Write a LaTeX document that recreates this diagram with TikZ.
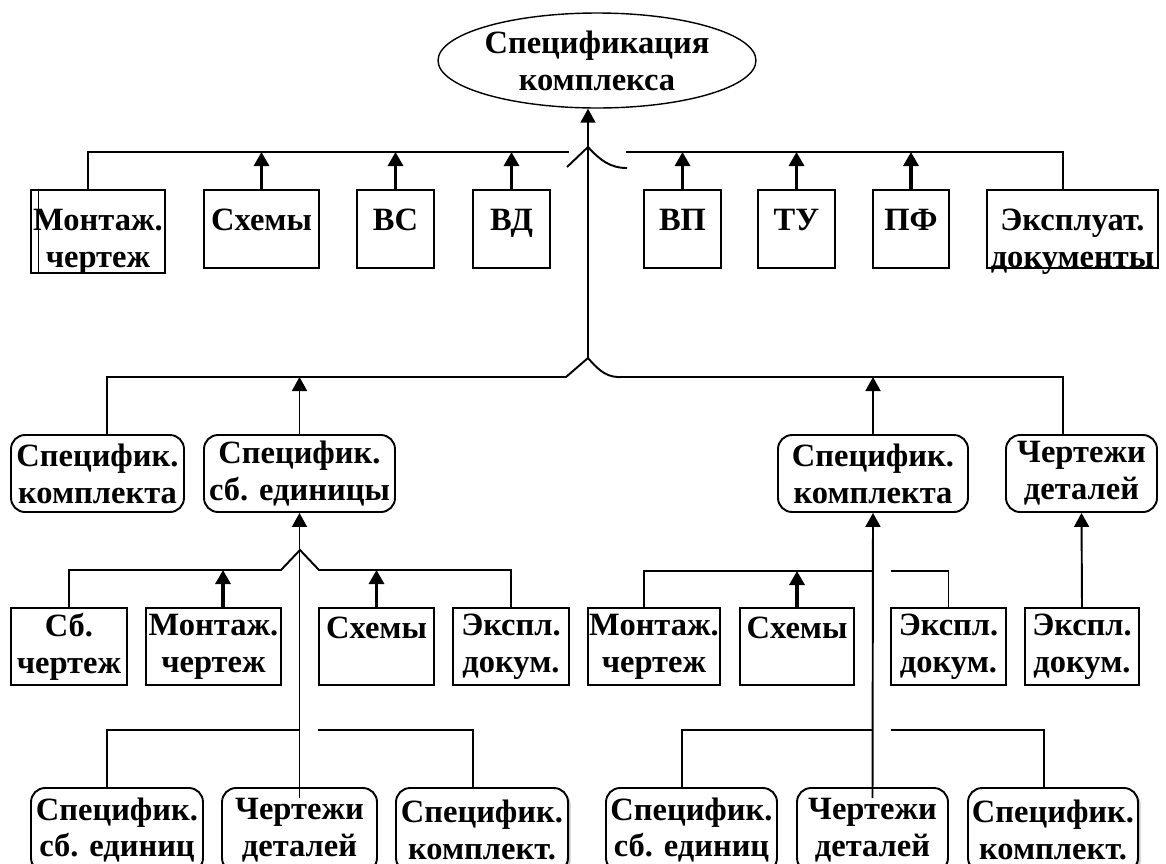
\documentclass[tikz,border=0pt]{standalone}
\usepackage{fontspec}
\setmainfont{Liberation Serif}
\usetikzlibrary{arrows.meta,calc,shapes.geometric,shadows}

\begin{document}
\begin{tikzpicture}[x=0.02cm,y=-0.02cm,
  every node/.style={font=\fontsize{18.5}{21}\selectfont\bfseries,align=center,inner sep=0pt},
  box/.style={draw,fill=white,line width=1.1pt,minimum height=1.54cm},
  lev1/.style={box,text height=1.54cm,text depth=0.02cm},
  rbox/.style={box,rounded corners=8pt},
  lowbox/.style={rbox,minimum height=1.68cm},
  shad/.style={drop shadow={shadow xshift=1.5pt,shadow yshift=-1.5pt,fill=black!45}},
  link/.style={line width=1.1pt},
  up/.style={link,-{Triangle[length=2.8mm,width=3mm]}},
  upt/.style={up,line width=1.8pt}]
\useasboundingbox (0,0) rectangle (1166,863);
\node[draw,ellipse,line width=0.8pt,minimum width=5.74cm,minimum height=1.9cm] (spec) at (597,60.5) {Спецификация\\комплекса};
% level 1
\node[lev1,line width=1.6pt,minimum width=2.68cm,text depth=0.12cm] (mont1) at (98,231.5) {Монтаж.\\чертеж};
\node[lev1,minimum width=2.3cm] (shem1) at (261.5,229) {Схемы\\~};
\node[lev1,minimum width=1.54cm] (vs) at (395.5,229) {ВС\\~};
\node[lev1,minimum width=1.54cm] (vd) at (511.5,229) {ВД\\~};
\node[lev1,minimum width=1.54cm] (vp) at (682.5,229) {ВП\\~};
\node[lev1,minimum width=1.54cm] (tu) at (796.5,229) {ТУ\\~};
\node[lev1,minimum width=1.52cm] (pf) at (911,229) {ПФ\\~};
\node[lev1,minimum width=3.42cm] (ekspl1) at (1072.5,229) {Эксплуат.\\документы};
% level 2
\node[rbox,minimum width=3.46cm] (speck1) at (97.5,473.5) {Специфик.\\комплекта};
\node[rbox,minimum width=3.82cm] (specsb) at (299.5,473.5) {Специфик.\\сб. единицы};
\node[rbox,minimum width=3.8cm] (speck2) at (873,473.5) {Специфик.\\комплекта};
\node[rbox,minimum width=3.02cm] (chert1) at (1081.5,473.5) {Чертежи\\деталей};
% level 3
\node[box,minimum width=2.32cm] (sb) at (69,646.5) {Сб.\\чертеж};
\node[box,minimum width=2.7cm] (mont3a) at (213.5,646.5) {Монтаж.\\чертеж};
\node[box,minimum width=2.3cm] (shem3a) at (376.5,646.5) {Схемы\\~};
\node[box,minimum width=2.32cm] (ekspl3a) at (511,646.5) {Экспл.\\докум.};
\node[box,minimum width=2.64cm] (mont3b) at (654,646.5) {Монтаж.\\чертеж};
\node[box,minimum width=2.28cm] (shem3b) at (797,646.5) {Схемы\\~};
\node[box,minimum width=2.3cm] (ekspl3b) at (948.5,646.5) {Экспл.\\докум.};
\node[box,minimum width=2.28cm] (ekspl3c) at (1082,646.5) {Экспл.\\докум.};
% bottom row
\node[lowbox,minimum width=3.44cm] (sbed1) at (117,830) {Специфик.\\сб. единиц};
\node[lowbox,minimum width=3.1cm] (chert2a) at (299.5,830) {Чертежи\\деталей};
\node[lowbox,shad,minimum width=3.44cm] (komp1) at (482,830) {Специфик.\\комплект.};
\node[lowbox,minimum width=3.42cm] (sbed2) at (691.5,830) {Специфик.\\сб. единиц};
\node[lowbox,minimum width=3.02cm] (chert2b) at (872.5,830) {Чертежи\\деталей};
\node[lowbox,shad,minimum width=3.4cm] (komp2) at (1053,830) {Специфик.\\комплект.};
\draw[line width=0.6pt] ($(mont1.north west)+(9,0)$) -- ($(mont1.south west)+(9,0)$);

% level 1 bus with hop
\coordinate (a1) at (88,152); \coordinate (h1l) at (569,152);
\coordinate (h1r) at (626,152); \coordinate (b1) at (1063,152);
\draw[link] (a1 |- mont1.north) -- (a1) -- (h1l);
\draw[link] (h1r) -- (b1) -- (b1 |- ekspl1.north);
\draw[link] (567,167) -- (588,147) .. controls (600,160) and (610,168) .. (627,168);
\foreach \n in {shem1,vs,vd,vp,tu,pf} \draw[upt] (\n.north) -- (\n.north |- a1);
\coordinate (trunk) at (588,358);
\draw[up] (trunk) -- (trunk |- spec.south);

% level 2 bus
\coordinate (a2) at (107,377); \coordinate (h2l) at (566,377);
\coordinate (h2r) at (623,377); \coordinate (b2) at (1063,377);
\draw[link] (a2 |- speck1.north) -- (a2) -- (h2l) -- (trunk) .. controls (600,372) and (608,378) .. (h2r) -- (b2) -- (b2 |- chert1.north);
\draw[up] (specsb.north) -- (specsb.north |- a2);
\draw[up] (speck2.north) -- (speck2.north |- a2);

% level 3, left
\coordinate (h3l) at (281,570); \coordinate (k3) at (300,550); \coordinate (h3r) at (319,570);
\draw[link] (sb.north) |- (h3l) -- (k3) -- (h3r) -| (ekspl3a.north);
\coordinate (m3) at (223,570);
\draw[upt] (m3 |- mont3a.north) -- (m3);
\draw[upt] (shem3a.north) -- (shem3a.north |- h3l);
\draw[up] ($(chert2a.north)+(0,11)$) -- (specsb.south);

% level 3, right
\coordinate (c3) at (644,571); \coordinate (d3) at (891,571);
\draw[link] (c3 |- mont3b.north) |- (speck2.south |- c3);
\draw[link] (d3) -| (ekspl3b.north);
\draw[upt] (shem3b.north) -- (shem3b.north |- c3);
\draw[up] ($(chert2b.north)+(0,11)$) -- (speck2.south);
\draw[up] (ekspl3c.north) -- (chert1.south);

% bottom buses
\coordinate (e1) at (107,730); \coordinate (f1) at (318,730); \coordinate (g1) at (473,730);
\draw[link] (e1 |- sbed1.north) |- (chert2a.north |- e1);
\draw[link] (f1) -| (g1 |- komp1.north);
\coordinate (e2) at (682,730); \coordinate (f2) at (891,730); \coordinate (g2) at (1044,730);
\draw[link] (e2 |- sbed2.north) |- (chert2b.north |- e2);
\draw[link] (f2) -| (g2 |- komp2.north);
\end{tikzpicture}
\end{document}
